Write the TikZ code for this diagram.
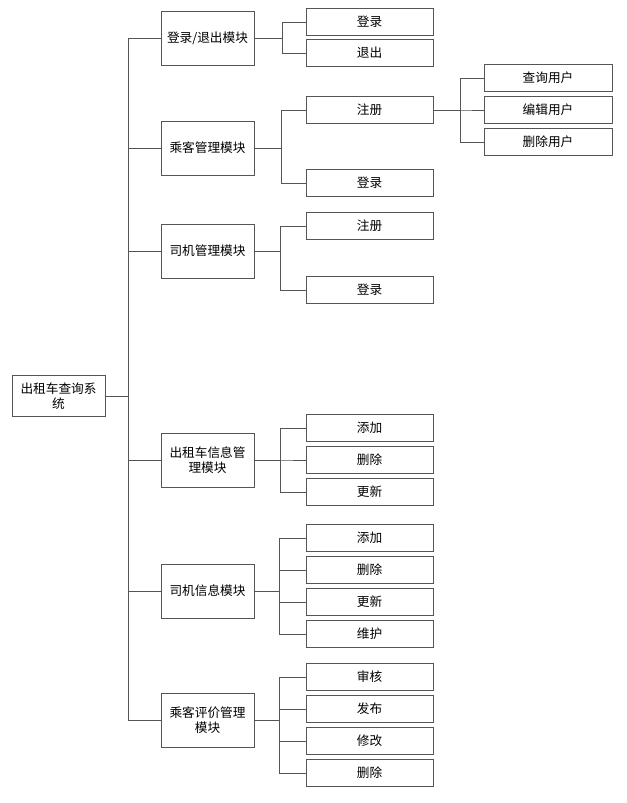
\documentclass[tikz,border=0pt]{standalone}
\usepackage{fontspec}
\setmainfont{Noto Sans CJK SC}
\definecolor{linegray}{RGB}{85,85,85}
\begin{document}
\begin{tikzpicture}[x=0.75pt,y=-0.75pt,
  every node/.style={font=\fontsize{9.5}{11.25}\selectfont},
  box/.style={draw=linegray, line width=0.75pt, inner sep=0pt, align=center},
  rootbox/.style={box, minimum width=69.75pt, minimum height=30.75pt},
  modbox/.style={box, minimum width=69.75pt, minimum height=40.5pt},
  subbox/.style={box, minimum width=95.25pt, minimum height=20.25pt},
  leafbox/.style={box, minimum width=96pt, minimum height=20.25pt},
  link/.style={draw=linegray, line width=0.75pt}]
  \useasboundingbox (0,0) rectangle (626,803);

  \node[rootbox] (sys) at (58.5,396) {出租车查询系\\统};

  % modules
  \node[modbox] (login) at (207.5,38) {登录/退出模块};
  \node[modbox] (pass) at (207.5,148) {乘客管理模块};
  \node[modbox] (drv) at (207.5,251) {司机管理模块};
  \node[modbox] (taxi) at (207.5,460) {出租车信息管\\理模块};
  \node[modbox] (drvinfo) at (207.5,591) {司机信息模块};
  \node[modbox] (review) at (207.5,720) {乘客评价管理\\模块};

  \foreach \m in {login,pass,drv,taxi,drvinfo,review}
    \draw[link] (sys.east) -- ++(23,0) |- (\m.west);

  % sub items
  \foreach \n/\y/\t in {la/22/登录, lb/53/退出} {
    \node[subbox] (\n) at (369.5,\y) {\t};
    \draw[link] (login.east) -- ++(28,0) |- (\n.west);
  }
  \foreach \n/\y/\t in {pa/110/注册, pb/183/登录} {
    \node[subbox] (\n) at (369.5,\y) {\t};
    \draw[link] (pass.east) -- ++(27,0) |- (\n.west);
  }
  \foreach \n/\y/\t in {da/226/注册, db/290/登录} {
    \node[subbox] (\n) at (369.5,\y) {\t};
    \draw[link] (drv.east) -- ++(26,0) |- (\n.west);
  }
  \foreach \n/\y/\t in {ta/428/添加, tb/460/删除, tc/492/更新} {
    \node[subbox] (\n) at (369.5,\y) {\t};
    \draw[link] (taxi.east) -- ++(26,0) |- (\n.west);
  }
  \foreach \n/\y/\t in {ia/538/添加, ib/570/删除, ic/602/更新, id/634/维护} {
    \node[subbox] (\n) at (369.5,\y) {\t};
    \draw[link] (drvinfo.east) -- ++(25,0) |- (\n.west);
  }
  \foreach \n/\y/\t in {ra/677/审核, rb/709/发布, rc/741/修改, rd/773/删除} {
    \node[subbox] (\n) at (369.5,\y) {\t};
    \draw[link] (review.east) -- ++(25,0) |- (\n.west);
  }

  % user items
  \foreach \n/\y/\t in {ua/78/查询用户, ub/110/编辑用户, uc/142/删除用户} {
    \node[leafbox] (\n) at (548,\y) {\t};
    \draw[link] (pa.east) -- ++(27,0) |- (\n.west);
  }
\end{tikzpicture}
\end{document}
